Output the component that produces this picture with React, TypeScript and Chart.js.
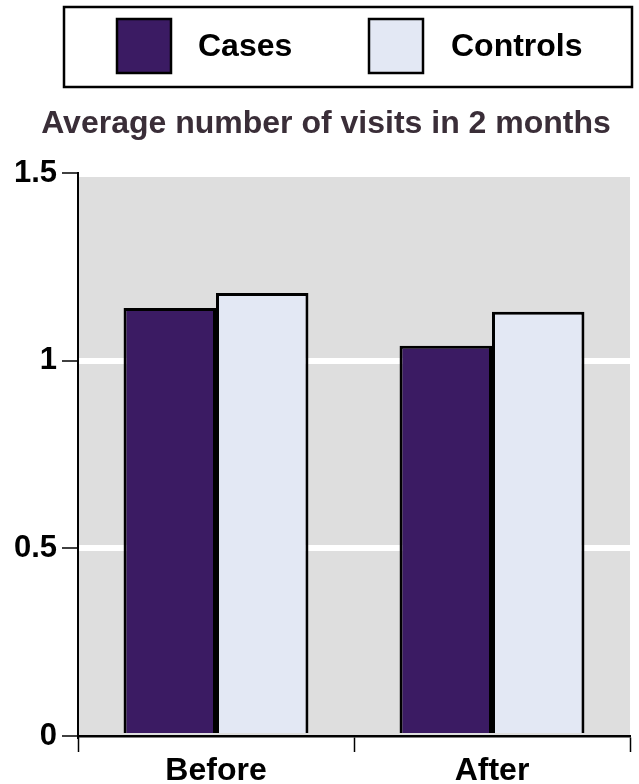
import React, { useEffect, useRef } from "react";
import { Chart, registerables } from "chart.js";

Chart.register(...registerables);

const categories = ["Before", "After"];
const seriesNames = ["Cases", "Controls"];
const casesValues = [1.14, 1.04];
const controlsValues = [1.18, 1.13];
const yTickValues = [0, 0.5, 1, 1.5];
const titleText = "Average number of visits in 2 months";

const FONT = '"Liberation Sans", Arial, Helvetica, sans-serif';
const CASES_COLOR = "#3b1b63";
const CONTROLS_COLOR = "#e3e8f4";
const PLOT_BG = "#dedede";

const decorPlugin = {
  id: "decor",
  beforeDraw(chart: any) {
    const { ctx, chartArea } = chart;
    ctx.save();
    ctx.fillStyle = "#ffffff";
    ctx.fillRect(0, 0, chart.width, chart.height);
    ctx.fillStyle = PLOT_BG;
    ctx.fillRect(chartArea.left, chartArea.top + 4, chartArea.right - chartArea.left, chartArea.bottom - chartArea.top - 4);
    ctx.restore();
  },
  afterDraw(chart: any) {
    const { ctx } = chart;
    ctx.save();
    // legend box
    ctx.strokeStyle = "#000";
    ctx.lineWidth = 2.5;
    ctx.strokeRect(64, 7, 568, 80);
    const items = [
      { sx: 117, tx: 198 },
      { sx: 369, tx: 451 },
    ];
    chart.data.datasets.forEach((ds: any, i: number) => {
      const it = items[i];
      ctx.fillStyle = ds.backgroundColor;
      ctx.fillRect(it.sx, 19, 54, 54);
      ctx.lineWidth = 2.5;
      ctx.strokeStyle = "#000";
      ctx.strokeRect(it.sx, 19, 54, 54);
      ctx.fillStyle = "#000";
      ctx.font = `bold 32px ${FONT}`;
      ctx.textAlign = "left";
      ctx.textBaseline = "alphabetic";
      ctx.fillText(ds.label, it.tx, 56);
    });
    // title
    ctx.fillStyle = "#3a2e38";
    ctx.font = `bold 32px ${FONT}`;
    ctx.textAlign = "center";
    ctx.textBaseline = "alphabetic";
    ctx.fillText(titleText, 326, 133);
    ctx.restore();
  },
};

export default function App() {
  const ref = useRef<HTMLCanvasElement>(null);
  useEffect(() => {
    if (!ref.current) return;
    const chart = new Chart(ref.current, {
      type: "bar",
      data: {
        labels: categories,
        datasets: [
          {
            label: seriesNames[0],
            data: casesValues,
            backgroundColor: CASES_COLOR,
            borderColor: "#000",
            borderWidth: 3,
          },
          {
            label: seriesNames[1],
            data: controlsValues,
            backgroundColor: CONTROLS_COLOR,
            borderColor: "#000",
            borderWidth: 3,
          },
        ],
      },
      options: {
        animation: false,
        responsive: false,
        maintainAspectRatio: false,
        devicePixelRatio: 1,
        layout: { padding: { top: 173, right: 9, left: 0, bottom: 0 } },
        datasets: { bar: { categoryPercentage: 0.67, barPercentage: 1 } },
        plugins: {
          legend: { display: false },
          title: { display: false },
          tooltip: { enabled: false },
        },
        scales: {
          x: {
            afterFit: (s: any) => {
              s.height = 48;
            },
            grid: {
              offset: true,
              drawOnChartArea: false,
              tickLength: 16,
              tickColor: "#000",
              tickWidth: 1.5,
            },
            border: { color: "#000", width: 2.5 },
            ticks: {
              color: "#000",
              padding: 0,
              font: { family: FONT, size: 32, weight: "bold" },
            },
          },
          y: {
            min: 0,
            max: 1.5,
            afterFit: (s: any) => {
              s.width = 78;
            },
            afterBuildTicks: (s: any) => {
              s.ticks = yTickValues.map((v) => ({ value: v }));
            },
            grid: {
              color: (c: any) =>
                c.tick && (c.tick.value === 0.5 || c.tick.value === 1) ? "#ffffff" : "rgba(0,0,0,0)",
              lineWidth: 6,
              tickLength: 16,
              tickColor: "#000",
              tickWidth: 1.5,
            },
            border: { color: "#000", width: 2 },
            ticks: {
              color: "#000",
              padding: 5,
              font: { family: FONT, size: 31, weight: "bold" },
              callback: (v: any) => String(Number(v)),
            },
          },
        },
      },
      plugins: [decorPlugin],
    });
    return () => chart.destroy();
  }, []);
  return (
    <div style={{ position: "fixed", left: 0, top: 0, width: 639, height: 784, background: "#fff" }}>
      <canvas ref={ref} width={639} height={784} style={{ width: 639, height: 784, display: "block" }} />
    </div>
  );
}
